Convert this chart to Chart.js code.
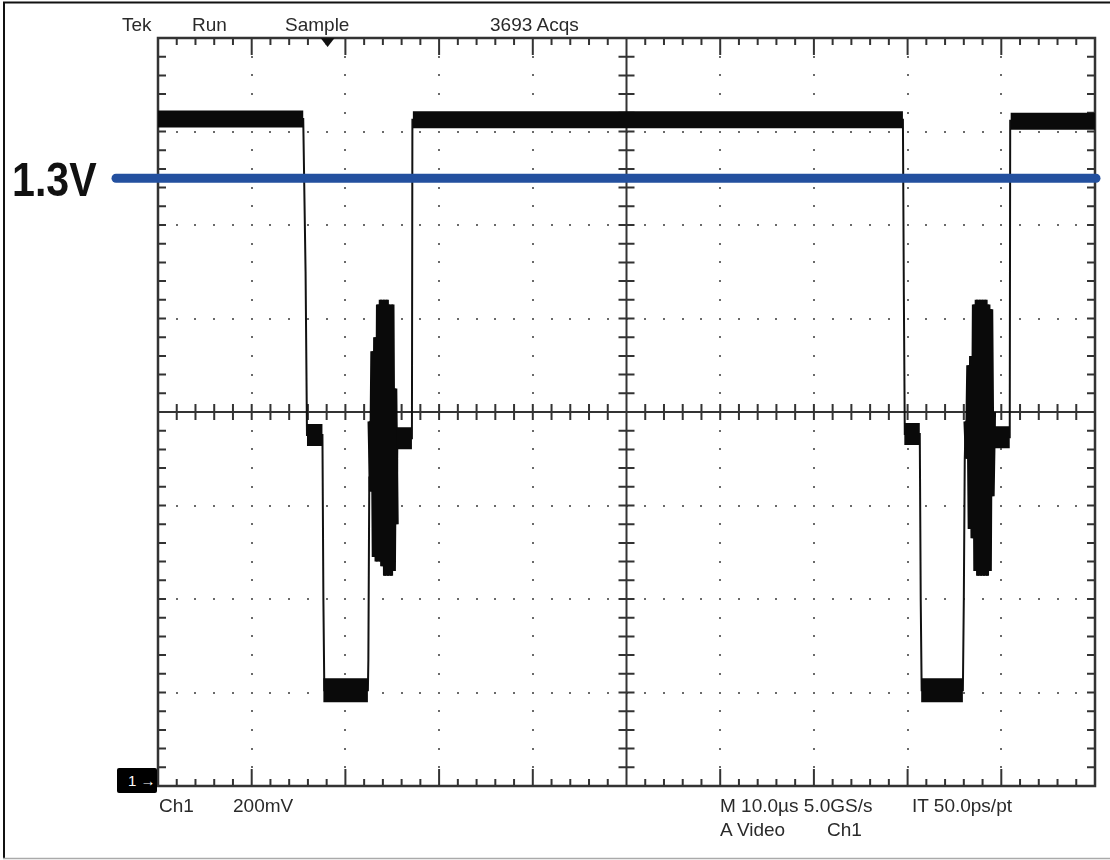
<!DOCTYPE html>
<html>
<head>
<meta charset="utf-8">
<script src="https://cdn.jsdelivr.net/npm/chart.js@4.4.1/dist/chart.umd.min.js"></script>
<style>
  html, body { margin: 0; padding: 0; background: #fff; }
  #wrap { position: relative; width: 1110px; height: 860px; overflow: hidden; }
  canvas { position: absolute; left: 0; top: 0; }
  .lbl { position: absolute; font: 19px/1 'Liberation Sans', Arial, sans-serif; color: #2a2a2a; white-space: nowrap; }
  #level { position: absolute; left: 12px; top: 155px; font: bold 49px/1 'Liberation Sans', Arial, sans-serif; color: #111; white-space: nowrap; transform: scaleX(0.84); transform-origin: 0 0; }
  #gnd { position: absolute; left: 117px; top: 768px; width: 40px; height: 25px; background: #000; color: #fff; font: 15px/25px 'Liberation Sans', sans-serif; padding-left: 11px; box-sizing: border-box; border-radius: 2px; }
</style>
</head>
<body>
<div id="wrap">
  <canvas id="scope" width="1110" height="860"></canvas>
  <span class="lbl" style="left:122px;top:15px">Tek</span>
  <span class="lbl" style="left:192px;top:15px">Run</span>
  <span class="lbl" style="left:285px;top:15px">Sample</span>
  <span class="lbl" style="left:490px;top:15px">3693 Acqs</span>
  <span class="lbl" style="left:159px;top:796px">Ch1</span>
  <span class="lbl" style="left:233px;top:796px">200mV</span>
  <span class="lbl" style="left:720px;top:796px">M 10.0µs 5.0GS/s</span>
  <span class="lbl" style="left:912px;top:796px">IT 50.0ps/pt</span>
  <span class="lbl" style="left:720px;top:820px">A Video</span>
  <span class="lbl" style="left:827px;top:820px">Ch1</span>
  <div id="level">1.3V</div>
  <div id="gnd">1 →</div>
</div>
<script>
// time in µs (10 µs/div), voltage in V (200 mV/div, ground at bottom)
const refVolts = 1.3;
const triggerTime = 18.1;

// thin trace: edges between the plateaus
const edge1Times = [0, 15.5, 15.75, 15.9, 17.55, 17.65, 17.75, 22.4, 22.45, 22.55];
const edge1Volts = [1.427, 1.427, 1.10, 0.751, 0.751, 0.40, 0.205, 0.205, 0.27, 0.66];
const burst1Times = [22.6, 22.75, 22.9, 23.05, 23.2, 23.35, 23.5, 23.65, 23.8, 23.95,
                     24.1, 24.25, 24.4, 24.55, 24.7, 24.85, 25.0, 25.15, 25.3, 25.45];
const burst1Volts = [0.78, 0.63, 0.93, 0.49, 0.96, 0.48, 1.03, 0.48, 1.04, 0.47,
                     1.04, 0.45, 1.04, 0.45, 1.03, 0.45, 1.03, 0.46, 0.85, 0.56];
const edge2Times = [25.55, 27.1, 27.15, 79.5, 79.6, 79.7, 81.3, 81.4, 81.5, 85.9, 86.0, 86.1];
const edge2Volts = [0.744, 0.744, 1.425, 1.425, 1.05, 0.753, 0.753, 0.40, 0.205, 0.205, 0.40, 0.70];
const burst2Times = [86.2, 86.35, 86.5, 86.65, 86.8, 86.95, 87.1, 87.25, 87.4, 87.55, 87.7,
                     87.85, 88.0, 88.15, 88.3, 88.45, 88.6, 88.75, 88.9, 89.05, 89.2];
const burst2Volts = [0.78, 0.70, 0.90, 0.55, 0.92, 0.53, 1.03, 0.46, 1.04, 0.45, 1.04,
                     0.45, 1.04, 0.45, 1.04, 0.45, 1.03, 0.46, 1.02, 0.62, 0.80];
const edge3Times = [89.3, 90.9, 90.95, 100];
const edge3Volts = [0.746, 0.746, 1.423, 1.423];

// noisy plateaus (start, end, level)
const highStart = [0, 27.2, 91.0];
const highEnd = [15.5, 79.5, 100];
const highVolts = [1.427, 1.425, 1.422];
const midStart = [15.9, 79.65, 25.5, 89.2];
const midEnd = [17.55, 81.3, 27.1, 90.9];
const midVolts = [0.751, 0.753, 0.744, 0.746];
const lowStart = [17.65, 81.45];
const lowEnd = [22.4, 85.9];
const lowVolts = [0.205, 0.205];

const pts = (ts, vs) => ts.map((t, i) => ({ x: t, y: vs[i] }));
const bands = (s, e, v) => s.flatMap((t, i) => [{ x: t, y: v[i] }, { x: e[i], y: v[i] }, { x: e[i], y: null }])
  .sort((a, b) => a.x - b.x || (a.y === null) - (b.y === null));

const trace = [
  ...pts(edge1Times, edge1Volts), ...pts(burst1Times, burst1Volts),
  ...pts(edge2Times, edge2Volts), ...pts(burst2Times, burst2Volts),
  ...pts(edge3Times, edge3Volts)
];
// colour bursts drawn again with a heavier pen so they fill in like the scope
const bursts = [
  ...pts(burst1Times, burst1Volts), { x: 25.5, y: null },
  ...pts(burst2Times, burst2Volts)
];

const graticule = {
  id: 'graticule',
  beforeDatasetsDraw(chart) {
    const { ctx, chartArea: a, scales: { x, y } } = chart;
    ctx.save();
    ctx.fillStyle = '#6a6a6a';
    for (let i = 1; i < 10; i++) {
      if (i === 5) continue;
      const px = Math.round(x.getPixelForValue(i * 10));
      for (let j = 1; j < 40; j++) {
        const py = Math.round(y.getPixelForValue(j * 0.04));
        ctx.fillRect(px - 1, py - 1, 2, 2);
      }
    }
    for (let j = 1; j < 8; j++) {
      if (j === 4) continue;
      const py = Math.round(y.getPixelForValue(j * 0.2));
      for (let i = 1; i < 50; i++) {
        const px = Math.round(x.getPixelForValue(i * 2));
        ctx.fillRect(px - 1, py - 1, 2, 2);
      }
    }
    const cx = x.getPixelForValue(50), cy = y.getPixelForValue(0.8);
    ctx.strokeStyle = '#333';
    ctx.lineWidth = 2;
    ctx.beginPath();
    ctx.moveTo(a.left, cy); ctx.lineTo(a.right, cy);
    ctx.moveTo(cx, a.top); ctx.lineTo(cx, a.bottom);
    for (let i = 1; i < 50; i++) {
      const px = x.getPixelForValue(i * 2);
      ctx.moveTo(px, cy - 8); ctx.lineTo(px, cy + 8);
      const len = i % 5 === 0 ? 17 : 7;
      ctx.moveTo(px, a.top); ctx.lineTo(px, a.top + len);
      ctx.moveTo(px, a.bottom); ctx.lineTo(px, a.bottom - len);
    }
    for (let j = 1; j < 40; j++) {
      const py = y.getPixelForValue(j * 0.04);
      ctx.moveTo(cx - 8, py); ctx.lineTo(cx + 8, py);
      ctx.moveTo(a.left, py); ctx.lineTo(a.left + 8, py);
      ctx.moveTo(a.right, py); ctx.lineTo(a.right - 8, py);
    }
    ctx.stroke();
    ctx.lineWidth = 2.5;
    ctx.strokeRect(a.left, a.top, a.right - a.left, a.bottom - a.top);
    ctx.restore();
  },
  afterDatasetsDraw(chart) {
    const { ctx, scales: { x, y } } = chart;
    ctx.save();
    // 1.3 V threshold line
    const py = y.getPixelForValue(refVolts);
    ctx.strokeStyle = '#23509f';
    ctx.lineWidth = 9;
    ctx.lineCap = 'round';
    ctx.beginPath();
    ctx.moveTo(116, py);
    ctx.lineTo(1096, py);
    ctx.stroke();
    // trigger position marker
    const tx = x.getPixelForValue(triggerTime), top = chart.chartArea.top;
    ctx.fillStyle = '#111';
    ctx.beginPath();
    ctx.moveTo(tx - 7, top);
    ctx.lineTo(tx + 7, top);
    ctx.lineTo(tx, top + 9);
    ctx.closePath();
    ctx.fill();
    // picture frame
    ctx.lineCap = 'butt';
    ctx.strokeStyle = '#111';
    ctx.lineWidth = 2;
    ctx.beginPath();
    ctx.moveTo(3, 2.5); ctx.lineTo(1110, 2.5);
    ctx.moveTo(4, 2); ctx.lineTo(4, 858);
    ctx.stroke();
    ctx.strokeStyle = '#aaa';
    ctx.lineWidth = 1.5;
    ctx.beginPath();
    ctx.moveTo(3, 858.5); ctx.lineTo(1110, 858.5);
    ctx.stroke();
    ctx.restore();
  }
};

new Chart(document.getElementById('scope'), {
  type: 'line',
  data: {
    datasets: [
      { label: 'high', data: bands(highStart, highEnd, highVolts), borderColor: '#0a0a0a', borderWidth: 17, borderCapStyle: 'butt' },
      { label: 'mid', data: bands(midStart, midEnd, midVolts), borderColor: '#0a0a0a', borderWidth: 22, borderCapStyle: 'butt' },
      { label: 'low', data: bands(lowStart, lowEnd, lowVolts), borderColor: '#0a0a0a', borderWidth: 24, borderCapStyle: 'butt' },
      { label: 'burst', data: bursts, borderColor: '#0a0a0a', borderWidth: 4.5 },
      { label: 'Ch1', data: trace, borderColor: '#111', borderWidth: 2 }
    ]
  },
  options: {
    responsive: false,
    animation: false,
    spanGaps: false,
    elements: { point: { radius: 0 }, line: { tension: 0 } },
    layout: { padding: { left: 158, right: 15, top: 38, bottom: 74 } },
    scales: {
      x: { type: 'linear', min: 0, max: 100, display: false },
      y: { type: 'linear', min: 0, max: 1.6, display: false }
    },
    plugins: { legend: { display: false }, tooltip: { enabled: false } }
  },
  plugins: [graticule]
});
</script>
</body>
</html>
